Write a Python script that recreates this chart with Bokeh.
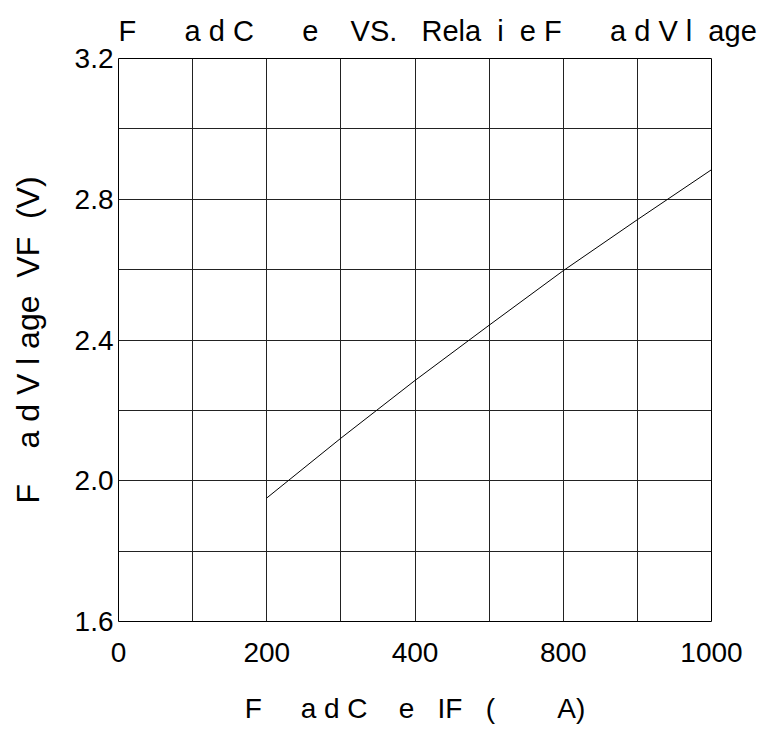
from bokeh.plotting import figure
from bokeh.models import FixedTicker, Range1d, Title
from bokeh.embed import file_html
from bokeh.resources import INLINE

# Data (x in axis units: one grid step = 100; labels as printed on the chart)
forward_current_pos = [200, 300, 400, 500, 600, 700, 800]
forward_voltage = [1.951, 2.121, 2.285, 2.442, 2.597, 2.742, 2.884]

x_tick_positions = [0, 200, 400, 600, 800]
x_tick_labels = ["0", "200", "400", "800", "1000"]
x_grid_positions = [0, 100, 200, 300, 400, 500, 600, 700, 800]
y_tick_positions = [1.6, 2.0, 2.4, 2.8, 3.2]
y_grid_positions = [1.6, 1.8, 2.0, 2.2, 2.4, 2.6, 2.8, 3.0, 3.2]

S = "\u00a0"
title_text = ("F" + S*6 + "a" + S + "d" + S + "C" + S*6 + "e" + S*4 + "VS." + S*3
              + "Rela" + S*2 + "i" + S*2 + "e" + S + "F" + S*6 + "a" + S + "d" + S + "V" + S + "l" + S*2 + "age")
x_label = "F" + S*5 + "a" + S + "d" + S + "C" + S*4 + "e" + S*3 + "IF" + S*3 + "(" + S*8 + "A)"
y_label = "F" + S*4 + "a" + S + "d" + S + "V" + S + "l" + S + "age" + S*2 + "VF" + S*2 + "(V)"

FONT = "Liberation Sans"

p = figure(width=768, height=733, output_backend="svg", toolbar_location=None,
           x_range=Range1d(0, 800), y_range=Range1d(1.6, 3.2),
           min_border_left=118, min_border_right=57, min_border_top=58,
           min_border_bottom=112)
p.title = Title(text=title_text, align="left", text_font=FONT,
                text_font_size="29px", text_font_style="normal",
                text_color="black", offset=0, standoff=23)

p.line(forward_current_pos, forward_voltage, line_color="black", line_width=1)

p.outline_line_color = "black"
p.outline_line_width = 1

p.xgrid.ticker = FixedTicker(ticks=x_grid_positions)
p.ygrid.ticker = FixedTicker(ticks=y_grid_positions)
for g in (p.xgrid, p.ygrid):
    g.grid_line_color = "#222222"
    g.grid_line_width = 1
    g.grid_line_alpha = 1

p.xaxis.ticker = FixedTicker(ticks=x_tick_positions)
p.xaxis.major_label_overrides = {pos: lab for pos, lab in zip(x_tick_positions, x_tick_labels)}
p.yaxis.ticker = FixedTicker(ticks=y_tick_positions)
p.yaxis.major_label_overrides = {pos: f"{pos:.1f}" for pos in y_tick_positions}

for ax in (p.xaxis[0], p.yaxis[0]):
    ax.axis_line_color = None
    ax.major_tick_line_color = None
    ax.minor_tick_line_color = None
    ax.major_tick_out = 0
    ax.major_tick_in = 0
    ax.minor_tick_out = 0
    ax.minor_tick_in = 0
    ax.major_label_text_font = FONT
    ax.major_label_text_font_size = "28px"
    ax.major_label_text_color = "black"
    ax.axis_label_text_font = FONT
    ax.axis_label_text_font_style = "normal"
    ax.axis_label_text_color = "black"

p.xaxis.axis_label = x_label
p.yaxis.axis_label = y_label
p.xaxis.axis_label_text_font_size = "28px"
p.yaxis.axis_label_text_font_size = "32px"
p.xaxis.major_label_standoff = 21
p.xaxis.axis_label_standoff = 28
p.yaxis.major_label_standoff = 5
p.yaxis.axis_label_standoff = 26

p.background_fill_color = "white"
p.border_fill_color = "white"

open("out.html", "w").write(file_html(p, INLINE))
